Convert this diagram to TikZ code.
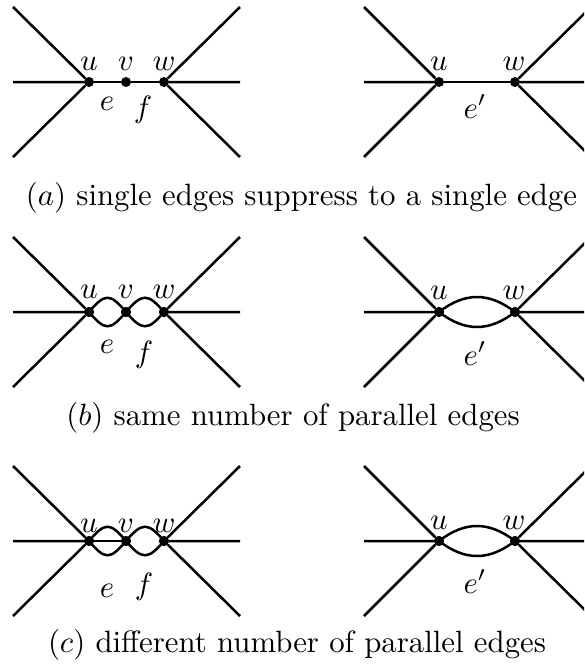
\documentclass[tikz,border=0pt]{standalone}
\usetikzlibrary{calc}
\tikzset{
  dot/.style={circle,fill=black,inner sep=0pt,minimum size=10pt},
  lbl/.style={anchor=base,inner sep=0pt,scale=3.08},
  ln/.style={line width=2.5pt},
  captxt/.style={anchor=base,inner sep=0pt,scale=3.08}
}
\begin{document}
\begin{tikzpicture}[x=1pt,y=-1pt]
\clip (0,0) rectangle (584,672);
\fill[white] (0,0) rectangle (584,672);

% ---------------- panel (a) ----------------
\node[dot] (au) at (89,82) {};
\node[dot] (av) at (126,82) {};
\node[dot] (aw) at (164,82) {};
\coordinate (aL1) at (13,7);
\coordinate (aL2) at (13,82);
\coordinate (aL3) at (13,157);
\coordinate (aR1) at (240,7);
\coordinate (aR2) at (240,82);
\coordinate (aR3) at (240,157);
\draw[ln] (au) -- (aL1) (au) -- (aL2) (au) -- (aL3);
\draw[ln] (aw) -- (aR1) (aw) -- (aR2) (aw) -- (aR3);
\draw[ln] (au) -- (av) (av) -- (aw);
\node[lbl] (aul) at (89,70) {$u$};
\node[lbl] (avl) at (126,70) {$v$};
\node[lbl] (awl) at (164,70) {$w$};
\node[lbl] (ael) at (107,110) {$e$};
\node[lbl] (afl) at (143,117.5) {$f$};

\node[dot] (pu) at (439,82) {};
\node[dot] (pw) at (515,82) {};
\coordinate (pL1) at (364,7);
\coordinate (pL2) at (364,82);
\coordinate (pL3) at (364,157);
\coordinate (pR1) at (591,7);
\coordinate (pR2) at (591,82);
\coordinate (pR3) at (591,157);
\draw[ln] (pu) -- (pL1) (pu) -- (pL2) (pu) -- (pL3);
\draw[ln] (pw) -- (pR1) (pw) -- (pR2) (pw) -- (pR3);
\draw[ln] (pu) -- (pw);
\node[lbl] (pul) at (439,70) {$u$};
\node[lbl] (pwl) at (514,70) {$w$};
\node[lbl] (pel) at (475,118) {$e'$};

\node[captxt] (capa) at (301.5,205) {$(a)$ single edges suppress to a single edge};

% ---------------- panel (b) ----------------
\node[dot] (bu) at (89,312) {};
\node[dot] (bv) at (126,312) {};
\node[dot] (bw) at (164,312) {};
\coordinate (bL1) at (13,237);
\coordinate (bL2) at (13,312);
\coordinate (bL3) at (13,387);
\coordinate (bR1) at (240,237);
\coordinate (bR2) at (240,312);
\coordinate (bR3) at (240,387);
\draw[ln] (bu) -- (bL1) (bu) -- (bL2) (bu) -- (bL3);
\draw[ln] (bw) -- (bR1) (bw) -- (bR2) (bw) -- (bR3);
\draw[ln] (bu.center) .. controls ($(bu)+(16,-19)$) and ($(bv)+(-16,-19)$) .. (bv.center);
\draw[ln] (bu.center) .. controls ($(bu)+(16,19)$) and ($(bv)+(-16,19)$) .. (bv.center);
\draw[ln] (bv.center) .. controls ($(bv)+(16,-19)$) and ($(bw)+(-16,-19)$) .. (bw.center);
\draw[ln] (bv.center) .. controls ($(bv)+(16,19)$) and ($(bw)+(-16,19)$) .. (bw.center);
\node[dot] (bu2) at (bu) {};
\node[dot] (bv2) at (bv) {};
\node[dot] (bw2) at (bw) {};
\node[lbl] (bul) at (89,298) {$u$};
\node[lbl] (bvl) at (126,298) {$v$};
\node[lbl] (bwl) at (164,298) {$w$};
\node[lbl] (bel) at (107,353) {$e$};
\node[lbl] (bfl) at (144,362) {$f$};

\node[dot] (qu) at (439,312) {};
\node[dot] (qw) at (515,312) {};
\coordinate (qL1) at (364,237);
\coordinate (qL2) at (364,312);
\coordinate (qL3) at (364,387);
\coordinate (qR1) at (591,237);
\coordinate (qR2) at (591,312);
\coordinate (qR3) at (591,387);
\draw[ln] (qu) -- (qL1) (qu) -- (qL2) (qu) -- (qL3);
\draw[ln] (qw) -- (qR1) (qw) -- (qR2) (qw) -- (qR3);
\draw[ln] (qu.center) .. controls ($(qu)+(26,-20)$) and ($(qw)+(-26,-20)$) .. (qw.center);
\draw[ln] (qu.center) .. controls ($(qu)+(26,20)$) and ($(qw)+(-26,20)$) .. (qw.center);
\node[dot] (qu2) at (qu) {};
\node[dot] (qw2) at (qw) {};
\node[lbl] (qul) at (439,299) {$u$};
\node[lbl] (qwl) at (514,299) {$w$};
\node[lbl] (qel) at (475,365) {$e'$};

\node[captxt] (capb) at (293,425) {$(b)$ same number of parallel edges};

% ---------------- panel (c) ----------------
\node[dot] (cu) at (89,541) {};
\node[dot] (cv) at (126,541) {};
\node[dot] (cw) at (164,541) {};
\coordinate (cL1) at (13,466);
\coordinate (cL2) at (13,541);
\coordinate (cL3) at (13,616);
\coordinate (cR1) at (240,466);
\coordinate (cR2) at (240,541);
\coordinate (cR3) at (240,616);
\draw[ln] (cu) -- (cL1) (cu) -- (cL2) (cu) -- (cL3);
\draw[ln] (cw) -- (cR1) (cw) -- (cR2) (cw) -- (cR3);
\draw[ln] (cu) -- (cv);
\draw[ln] (cu.center) .. controls ($(cu)+(16,-19)$) and ($(cv)+(-16,-19)$) .. (cv.center);
\draw[ln] (cu.center) .. controls ($(cu)+(16,19)$) and ($(cv)+(-16,19)$) .. (cv.center);
\draw[ln] (cv.center) .. controls ($(cv)+(16,-19)$) and ($(cw)+(-16,-19)$) .. (cw.center);
\draw[ln] (cv.center) .. controls ($(cv)+(16,19)$) and ($(cw)+(-16,19)$) .. (cw.center);
\node[dot] (cu2) at (cu) {};
\node[dot] (cv2) at (cv) {};
\node[dot] (cw2) at (cw) {};
\node[lbl] (cul) at (89,532) {$u$};
\node[lbl] (cvl) at (126,532) {$v$};
\node[lbl] (cwl) at (164,532) {$w$};
\node[lbl] (cel) at (107,597) {$e$};
\node[lbl] (cfl) at (144,594) {$f$};

\node[dot] (ru) at (439,541) {};
\node[dot] (rw) at (515,541) {};
\coordinate (rL1) at (364,466);
\coordinate (rL2) at (364,541);
\coordinate (rL3) at (364,616);
\coordinate (rR1) at (591,466);
\coordinate (rR2) at (591,541);
\coordinate (rR3) at (591,616);
\draw[ln] (ru) -- (rL1) (ru) -- (rL2) (ru) -- (rL3);
\draw[ln] (rw) -- (rR1) (rw) -- (rR2) (rw) -- (rR3);
\draw[ln] (ru.center) .. controls ($(ru)+(26,-20)$) and ($(rw)+(-26,-20)$) .. (rw.center);
\draw[ln] (ru.center) .. controls ($(ru)+(26,20)$) and ($(rw)+(-26,20)$) .. (rw.center);
\node[dot] (ru2) at (ru) {};
\node[dot] (rw2) at (rw) {};
\node[lbl] (rul) at (439,529) {$u$};
\node[lbl] (rwl) at (514,529) {$w$};
\node[lbl] (rel) at (475,593) {$e'$};

\node[captxt] (capc) at (297,652) {$(c)$ different number of parallel edges};
\end{tikzpicture}
\end{document}
